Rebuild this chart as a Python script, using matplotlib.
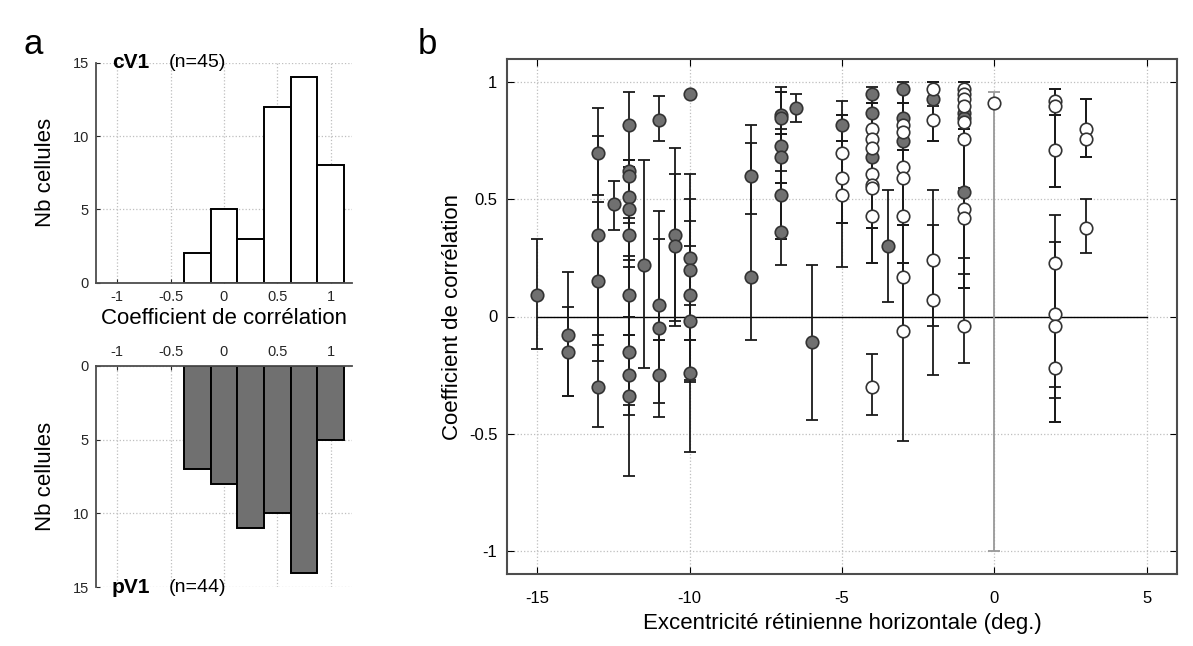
import matplotlib
matplotlib.use("Agg")
import matplotlib.pyplot as plt
import numpy as np

plt.rcParams['font.family'] = ['Liberation Sans', 'DejaVu Sans']
plt.rcParams['axes.unicode_minus'] = False

# histograms (panel a)
bin_centers = [-0.25, 0.0, 0.25, 0.5, 0.75, 1.0]
cv1_counts = [2, 5, 3, 12, 14, 8]
pv1_counts = [7, 8, 11, 10, 14, 5]
hist_xticks = [-1, -0.5, 0, 0.5, 1]
hist_xticklabels = ['-1', '-0.5', '0', '0.5', '1']
hist_yticks = [0, 5, 10, 15]

# panel b: filled points (pV1)
pv1_x = [-15, -14, -14, -13, -13, -13, -13, -12.5, -12, -12, -12, -12, -12, -12, -12, -12, -12, -12,
         -11.5, -11, -11, -11, -11, -10.5, -10.5, -10, -10, -10, -10, -10, -10,
         -8, -8, -7, -7, -7, -7, -7, -7, -6.5, -6, -5, -4, -4, -4, -3.5, -3, -3, -3, -2, -1, -1, -1]
pv1_r = [0.09, -0.08, -0.15, 0.70, 0.35, 0.15, -0.30, 0.48, 0.82, 0.62, 0.60, 0.51, 0.46, 0.35, 0.09, -0.15, -0.25, -0.34,
         0.22, 0.84, 0.05, -0.05, -0.25, 0.35, 0.30, 0.95, 0.25, 0.20, 0.09, -0.02, -0.24,
         0.60, 0.17, 0.86, 0.85, 0.73, 0.68, 0.52, 0.36, 0.89, -0.11, 0.82, 0.95, 0.87, 0.68, 0.30, 0.97, 0.85, 0.75, 0.93, 0.87, 0.85, 0.53]
pv1_lo = [-0.14, -0.34, -0.34, 0.52, -0.12, -0.19, -0.47, 0.37, 0.67, 0.40, 0.26, 0.21, 0.24, 0.00, -0.08, -0.38, -0.42, -0.68,
          -0.22, 0.75, -0.10, -0.43, -0.37, -0.02, -0.04, 0.95, -0.10, -0.28, -0.10, -0.27, -0.58,
          0.44, -0.10, 0.78, 0.62, 0.57, 0.33, 0.22, 0.33, 0.83, -0.44, 0.75, 0.91, 0.72, 0.38, 0.06, 0.91, 0.71, 0.39, 0.75, 0.80, 0.55, 0.12]
pv1_hi = [0.33, 0.19, 0.04, 0.89, 0.77, 0.49, -0.08, 0.58, 0.96, 0.67, 0.64, 0.67, 0.64, 0.62, 0.42, 0.00, -0.08, 0.00,
          0.67, 0.94, 0.45, 0.33, -0.10, 0.72, 0.61, 0.95, 0.61, 0.50, 0.41, 0.30, 0.05,
          0.74, 0.82, 0.98, 0.96, 0.80, 0.96, 0.78, 0.57, 0.95, 0.22, 0.92, 0.98, 0.95, 0.91, 0.54, 1.00, 0.97, 0.91, 1.00, 0.97, 0.95, 0.80]

# panel b: open points (cV1)
cv1_x = [-5, -5, -5, -4, -4, -4, -4, -4, -4, -4, -4, -3, -3, -3, -3, -3, -3, -3, -2, -2, -2, -2,
         -1, -1, -1, -1, -1, -1, -1, -1, -1, 0, 2, 2, 2, 2, 2, 2, 2, 3, 3, 3]
cv1_r = [0.70, 0.59, 0.52, 0.80, 0.76, 0.72, 0.61, 0.56, 0.55, 0.43, -0.30, 0.82, 0.79, 0.64, 0.59, 0.43, 0.17, -0.06,
         0.97, 0.84, 0.24, 0.07, 0.97, 0.95, 0.93, 0.90, 0.83, 0.76, 0.46, 0.42, -0.04, 0.91,
         0.92, 0.90, 0.71, 0.23, 0.01, -0.04, -0.22, 0.80, 0.76, 0.38]
cv1_lo = [0.40, 0.21, 0.40, 0.55, 0.43, 0.38, 0.23, 0.38, 0.38, 0.23, -0.42, 0.71, 0.64, 0.39, 0.23, 0.17, -0.06, -0.53,
          0.90, 0.75, -0.04, -0.25, 0.90, 0.85, 0.80, 0.77, 0.53, 0.46, 0.18, 0.12, -0.20, -1.00,
          0.86, 0.555, 0.555, -0.30, -0.45, -0.35, -0.45, 0.68, 0.68, 0.27]
cv1_hi = [0.86, 0.86, 0.75, 0.91, 0.87, 0.87, 0.80, 0.72, 0.68, 0.61, -0.16, 0.91, 0.91, 0.82, 0.79, 0.71, 0.39, 0.23,
          1.00, 0.93, 0.54, 0.39, 1.00, 1.00, 1.00, 0.97, 0.93, 0.90, 0.53, 0.53, 0.25, 0.96,
          0.97, 0.97, 0.86, 0.435, 0.32, 0.23, 0.00, 0.93, 0.93, 0.50]

W, H = 1193, 646
fig = plt.figure(figsize=(W / 100, H / 100), dpi=100)

grid_kw = dict(color='0.75', linestyle=':', linewidth=0.9)
grey_fill = '#707070'


def style_hist(ax):
    ax.set_xlim(-1.2, 1.2)
    ax.set_ylim(0, 15)
    ax.set_xticks(hist_xticks)
    ax.set_xticklabels(hist_xticklabels)
    ax.set_yticks(hist_yticks)
    ax.grid(True, **grid_kw)
    ax.set_axisbelow(True)
    ax.tick_params(direction='in', length=3, labelsize=10.5, colors='0.15', pad=5)
    for s in ax.spines.values():
        s.set_linewidth(1.3)
        s.set_color('0.3')


# top histogram (cV1)
ax1 = fig.add_axes([96 / W, 1 - 282.7 / H, 256 / W, 220 / H])
ax1.bar(bin_centers, cv1_counts, width=0.25, color='white', edgecolor='black', linewidth=1.4)
style_hist(ax1)
ax1.spines['top'].set_visible(False)
ax1.spines['right'].set_visible(False)
ax1.set_ylabel('Nb cellules', fontsize=16, labelpad=12)
ax1.set_xlabel('Coefficient de corrélation', fontsize=16, labelpad=3)
ax1.text(-1.05, 15, 'cV1', fontsize=15, fontweight='bold', va='center', ha='left')
ax1.text(-0.52, 15, '(n=45)', fontsize=14, va='center', ha='left')

# bottom histogram (pV1), inverted
ax2 = fig.add_axes([96 / W, 1 - 587.3 / H, 256 / W, 221.6 / H])
ax2.bar(bin_centers, pv1_counts, width=0.25, color=grey_fill, edgecolor='black', linewidth=1.4)
style_hist(ax2)
ax2.invert_yaxis()
ax2.xaxis.tick_top()
ax2.spines['bottom'].set_visible(False)
ax2.spines['right'].set_visible(False)
ax2.set_ylabel('Nb cellules', fontsize=16, labelpad=12)
ax2.text(-1.05, 15, 'pV1', fontsize=15, fontweight='bold', va='center', ha='left')
ax2.text(-0.52, 15, '(n=44)', fontsize=14, va='center', ha='left')

# panel b
ax3 = fig.add_axes([507 / W, 1 - 574 / H, 670 / W, 515 / H])
ax3.set_xlim(-16, 6)
ax3.set_ylim(-1.1, 1.1)
ax3.set_xticks([-15, -10, -5, 0, 5])
ax3.set_yticks([-1, -0.5, 0, 0.5, 1])
ax3.set_yticklabels(['-1', '-0.5', '0', '0.5', '1'])
ax3.grid(True, **grid_kw)
ax3.set_axisbelow(True)
ax3.tick_params(direction='in', length=5, labelsize=12, top=True, right=True, pad=7)
ax3.tick_params(axis='x', pad=12)
for s in ax3.spines.values():
    s.set_linewidth(1.5)
    s.set_color('0.3')

ax3.plot([-15, 5], [0, 0], color='black', linewidth=1.0, zorder=2)


def draw_points(xs, rs, los, his, face):
    for x, r, lo, hi in zip(xs, rs, los, his):
        ecol = '0.6' if x == 0 else '0.1'
        ax3.errorbar([x], [r], yerr=[[r - lo], [hi - r]], fmt='none', ecolor=ecol,
                     elinewidth=1.3, capsize=4, capthick=1.3, zorder=3)
    ax3.plot(xs, rs, 'o', markersize=9, markerfacecolor=face, markeredgecolor='0.2',
             markeredgewidth=1.2, linestyle='none', zorder=4)


draw_points(pv1_x, pv1_r, pv1_lo, pv1_hi, grey_fill)
draw_points(cv1_x, cv1_r, cv1_lo, cv1_hi, 'white')

ax3.set_ylabel('Coefficient de corrélation', fontsize=16, labelpad=4)
ax3.set_xlabel('Excentricité rétinienne horizontale (deg.)', fontsize=16, labelpad=5)

fig.text(33 / W, 1 - 44 / H, 'a', fontsize=25, va='center', ha='center')
fig.text(427 / W, 1 - 44 / H, 'b', fontsize=25, va='center', ha='center')

fig.savefig('out.png', dpi=100)
